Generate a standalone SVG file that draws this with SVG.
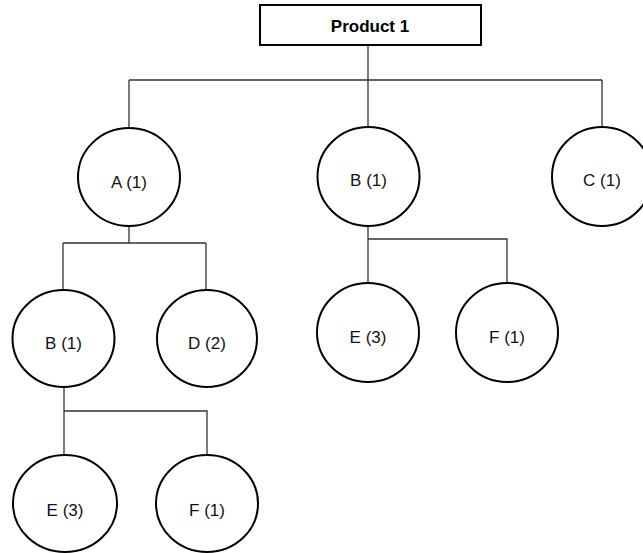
<svg xmlns="http://www.w3.org/2000/svg" width="643" height="553" viewBox="0 0 643 553">
<style>
.node ellipse{fill:#fff;stroke:#000;stroke-width:2}
.box{fill:#fff;stroke:#000;stroke-width:2}
.lbl{font-family:"Liberation Sans",Arial,sans-serif;font-size:17px;fill:#111;text-anchor:middle}
.title{font-family:"Liberation Sans",Arial,sans-serif;font-size:17px;font-weight:bold;fill:#000;text-anchor:middle}
#connectors path{fill:none;stroke:#333;stroke-width:1.3}
</style>
<rect width="643" height="553" fill="#fff"/>
<g id="connectors">
<path d="M368,45 V80 M129,80 H602 M129,80 V128 M368,80 V127 M602,80 V127"/>
<path d="M129,226 V243 M63,243 H206 M63,243 V290 M206,243 V290"/>
<path d="M368,226 V239 H507 V283 M368,239 V283"/>
<path d="M64,387 V411 H207 V455 M64,411 V455"/>
</g>
<g id="product1">
<rect class="box" x="260" y="5" width="221" height="40"/>
<text class="title" x="370" y="32">Product 1</text>
</g>
<g id="nodeA" class="node"><ellipse cx="129" cy="177" rx="51" ry="49"/><text class="lbl" x="129" y="188">A (1)</text></g>
<g id="nodeB" class="node"><ellipse cx="368.5" cy="176.5" rx="51" ry="49.5"/><text class="lbl" x="368.5" y="186">B (1)</text></g>
<g id="nodeC" class="node"><ellipse cx="602" cy="176.5" rx="50" ry="49.5"/><text class="lbl" x="602" y="186">C (1)</text></g>
<g id="nodeAB" class="node"><ellipse cx="63.5" cy="338.5" rx="51" ry="48.5"/><text class="lbl" x="63.5" y="349">B (1)</text></g>
<g id="nodeAD" class="node"><ellipse cx="207" cy="338.5" rx="50" ry="48.5"/><text class="lbl" x="207" y="349">D (2)</text></g>
<g id="nodeBE" class="node"><ellipse cx="368" cy="332.5" rx="51" ry="49.5"/><text class="lbl" x="368" y="343">E (3)</text></g>
<g id="nodeBF" class="node"><ellipse cx="507" cy="332.5" rx="51" ry="49.5"/><text class="lbl" x="507" y="343">F (1)</text></g>
<g id="nodeABE" class="node"><ellipse cx="65" cy="503.5" rx="52" ry="48.5"/><text class="lbl" x="65" y="516">E (3)</text></g>
<g id="nodeABF" class="node"><ellipse cx="207" cy="503.5" rx="51" ry="48.5"/><text class="lbl" x="207" y="516">F (1)</text></g>
</svg>
